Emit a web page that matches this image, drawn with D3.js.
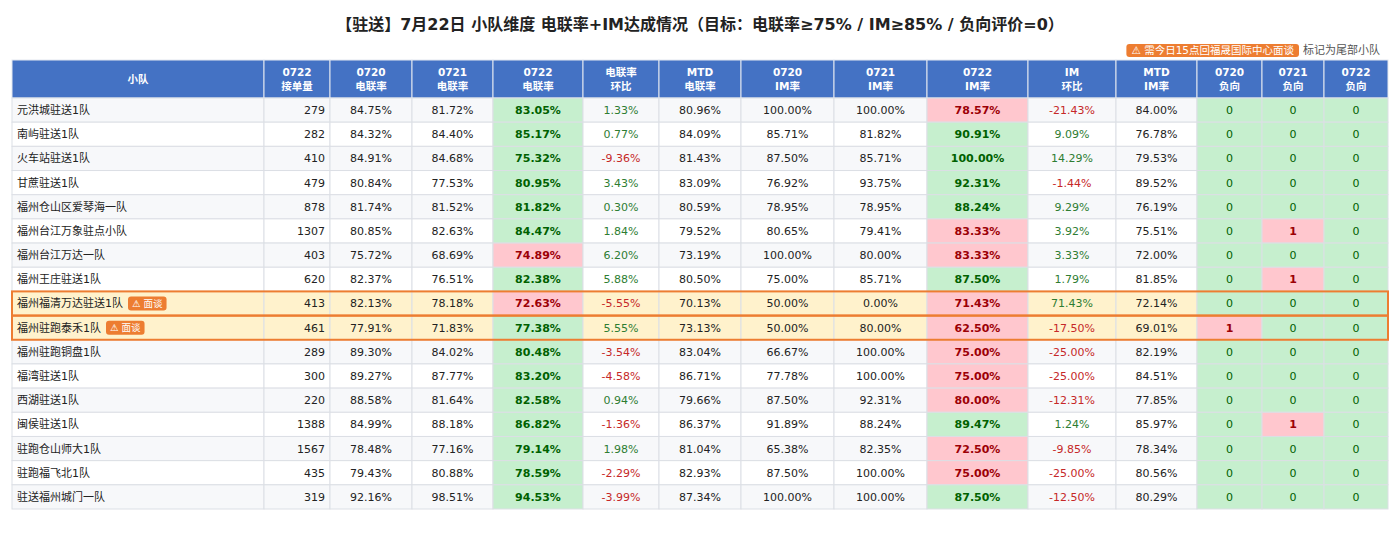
<!DOCTYPE html>
<html lang="zh">
<head>
<meta charset="utf-8">
<title>驻送 小队维度 电联率+IM达成情况</title>
<script src="https://d3js.org/d3.v7.min.js"></script>
<style>
  body { margin: 0; background: #fff; }
  svg { display: block; }
  text { font-family: "DejaVu Sans", "Noto Sans CJK SC", sans-serif; }
  .title { font-size: 16px; font-weight: bold; fill: #222; }
  .head { font-size: 10.5px; font-weight: bold; fill: #fff; }
  .cell { font-size: 11px; }
</style>
</head>
<body>
<svg id="chart" width="1400" height="540"></svg>
<script>
// ---- data ----
const teams = ["元洪城驻送1队", "南屿驻送1队", "火车站驻送1队", "甘蔗驻送1队", "福州仓山区爱琴海一队",
  "福州台江万象驻点小队", "福州台江万达一队", "福州王庄驻送1队", "福州福清万达驻送1队", "福州驻跑泰禾1队",
  "福州驻跑铜盘1队", "福湾驻送1队", "西湖驻送1队", "闽侯驻送1队", "驻跑仓山师大1队", "驻跑福飞北1队", "驻送福州城门一队"];
const orders  = [279, 282, 410, 479, 878, 1307, 403, 620, 413, 461, 289, 300, 220, 1388, 1567, 435, 319];
const dl0720  = [84.75, 84.32, 84.91, 80.84, 81.74, 80.85, 75.72, 82.37, 82.13, 77.91, 89.30, 89.27, 88.58, 84.99, 78.48, 79.43, 92.16];
const dl0721  = [81.72, 84.40, 84.68, 77.53, 81.52, 82.63, 68.69, 76.51, 78.18, 71.83, 84.02, 87.77, 81.64, 88.18, 77.16, 80.88, 98.51];
const dl0722  = [83.05, 85.17, 75.32, 80.95, 81.82, 84.47, 74.89, 82.38, 72.63, 77.38, 80.48, 83.20, 82.58, 86.82, 79.14, 78.59, 94.53];
const dlChg   = [1.33, 0.77, -9.36, 3.43, 0.30, 1.84, 6.20, 5.88, -5.55, 5.55, -3.54, -4.58, 0.94, -1.36, 1.98, -2.29, -3.99];
const dlMtd   = [80.96, 84.09, 81.43, 83.09, 80.59, 79.52, 73.19, 80.50, 70.13, 73.13, 83.04, 86.71, 79.66, 86.37, 81.04, 82.93, 87.34];
const im0720  = [100.00, 85.71, 87.50, 76.92, 78.95, 80.65, 100.00, 75.00, 50.00, 50.00, 66.67, 77.78, 87.50, 91.89, 65.38, 87.50, 100.00];
const im0721  = [100.00, 81.82, 85.71, 93.75, 78.95, 79.41, 80.00, 85.71, 0.00, 80.00, 100.00, 100.00, 92.31, 88.24, 82.35, 100.00, 100.00];
const im0722  = [78.57, 90.91, 100.00, 92.31, 88.24, 83.33, 83.33, 87.50, 71.43, 62.50, 75.00, 75.00, 80.00, 89.47, 72.50, 75.00, 87.50];
const imChg   = [-21.43, 9.09, 14.29, -1.44, 9.29, 3.92, 3.33, 1.79, 71.43, -17.50, -25.00, -25.00, -12.31, 1.24, -9.85, -25.00, -12.50];
const imMtd   = [84.00, 76.78, 79.53, 89.52, 76.19, 75.51, 72.00, 81.85, 72.14, 69.01, 82.19, 84.51, 77.85, 85.97, 78.34, 80.56, 80.29];
const neg0720 = [0, 0, 0, 0, 0, 0, 0, 0, 0, 1, 0, 0, 0, 0, 0, 0, 0];
const neg0721 = [0, 0, 0, 0, 0, 1, 0, 1, 0, 0, 0, 0, 0, 1, 0, 0, 0];
const neg0722 = [0, 0, 0, 0, 0, 0, 0, 0, 0, 0, 0, 0, 0, 0, 0, 0, 0];
const tailTeams = ["福州福清万达驻送1队", "福州驻跑泰禾1队"];

const headTop    = ["小队", "0722", "0720", "0721", "0722", "电联率", "MTD", "0720", "0721", "0722", "IM", "MTD", "0720", "0721", "0722"];
const headBottom = ["", "接单量", "电联率", "电联率", "电联率", "环比", "电联率", "IM率", "IM率", "IM率", "环比", "IM率", "负向", "负向", "负向"];
const dlTarget = 75, imTarget = 85;

// column kinds: name, count, plain pct, target pct, change pct, negative count
const columns = [
  { kind: "name", values: teams },
  { kind: "count", values: orders },
  { kind: "pct", values: dl0720 },
  { kind: "pct", values: dl0721 },
  { kind: "target", values: dl0722, target: dlTarget },
  { kind: "chg", values: dlChg },
  { kind: "pct", values: dlMtd },
  { kind: "pct", values: im0720 },
  { kind: "pct", values: im0721 },
  { kind: "target", values: im0722, target: imTarget },
  { kind: "chg", values: imChg },
  { kind: "pct", values: imMtd },
  { kind: "neg", values: neg0720 },
  { kind: "neg", values: neg0721 },
  { kind: "neg", values: neg0722 }
];

// ---- layout ----
const colWidths = [252, 66, 82, 81, 90, 76, 82, 93, 93, 101, 88, 81, 65, 62, 64];
const tableLeft = 12, headTopY = 60, headBottomY = 98, tableBottom = 509;
const edges = [tableLeft, ...Array.from(d3.cumsum(colWidths), v => tableLeft + v)];

const x = d3.scaleOrdinal().domain(d3.range(columns.length)).range(edges.slice(0, -1));
const w = i => colWidths[i];
const y = d3.scaleBand().domain(d3.range(teams.length)).range([headBottomY, tableBottom]);

const C = {
  head: "#4472c4", grid: "#dcdfe5", stripe: "#f7f8fa", text: "#222",
  goodBg: "#c6efce", goodFg: "#006100", badBg: "#ffc7ce", badFg: "#9c0006",
  up: "#2e7d32", down: "#c62828", tailBg: "#fff2cc", orange: "#ed7d31"
};
// plain hyphen for negatives, like the source sheet
const fmt2 = d3.formatLocale({ decimal: ".", thousands: ",", grouping: [3], currency: ["", ""], minus: "-" }).format(".2f");
const pct = d => fmt2(d) + "%";

const svg = d3.select("#chart");

svg.append("text").attr("class", "title")
  .attr("x", 700).attr("y", 30).attr("text-anchor", "middle")
  .text("【驻送】7月22日 小队维度 电联率+IM达成情况（目标：电联率≥75% / IM≥85% / 负向评价=0）");

// legend at top right
const legend = svg.append("g");
const legendNote = legend.append("text")
  .attr("x", 1380).attr("y", 54).attr("text-anchor", "end")
  .style("fill", "#555").style("font-size", "11px").text("标记为尾部小队");
const noteW = legendNote.node().getComputedTextLength();
const badgeRight = 1380 - noteW - 9;
const badgeText = legend.append("text")
  .attr("x", badgeRight).attr("y", 54).attr("text-anchor", "end")
  .style("fill", "#fff").style("font-size", "10.5px").text("⚠ 需今日15点回福晟国际中心面谈");
const btW = badgeText.node().getComputedTextLength();
legend.insert("rect", "text:last-child")
  .attr("x", badgeRight - btW - 5).attr("y", 44).attr("width", btW + 10).attr("height", 13)
  .attr("rx", 3).attr("fill", C.orange);

// header
const head = svg.append("g");
columns.forEach((c, i) => {
  head.append("rect").attr("x", x(i)).attr("y", headTopY)
    .attr("width", w(i)).attr("height", headBottomY - headTopY)
    .attr("fill", C.head).attr("stroke", "#e3e8f0").attr("stroke-width", 1);
  const cx = x(i) + w(i) / 2;
  if (headBottom[i]) {
    head.append("text").attr("class", "head").attr("x", cx).attr("y", 76).attr("text-anchor", "middle").text(headTop[i]);
    head.append("text").attr("class", "head").attr("x", cx).attr("y", 90).attr("text-anchor", "middle").text(headBottom[i]);
  } else {
    head.append("text").attr("class", "head").attr("x", cx).attr("y", 83).attr("text-anchor", "middle").text(headTop[i]);
  }
});

// body
const rows = svg.append("g").selectAll("g.row")
  .data(teams).join("g").attr("class", "row")
  .attr("transform", (d, r) => `translate(0,${y(r)})`);

rows.each(function (team, r) {
  const g = d3.select(this);
  const isTail = tailTeams.includes(team);
  const baseBg = isTail ? C.tailBg : (r % 2 === 0 ? C.stripe : "#fff");
  columns.forEach((c, i) => {
    const v = c.values[r];
    let bg = baseBg, fg = C.text, bold = false, label, anchor = "middle", tx = x(i) + w(i) / 2;
    if (c.kind === "name") { label = v; anchor = "start"; tx = x(i) + 5; }
    else if (c.kind === "count") { label = v; anchor = "end"; tx = x(i) + w(i) - 5; }
    else if (c.kind === "pct") { label = pct(v); }
    else if (c.kind === "target") {
      label = pct(v); bold = true;
      const ok = v >= c.target;
      bg = ok ? C.goodBg : C.badBg; fg = ok ? C.goodFg : C.badFg;
    } else if (c.kind === "chg") { label = pct(v); fg = v >= 0 ? C.up : C.down; }
    else if (c.kind === "neg") {
      label = v;
      const ok = v === 0;
      bg = ok ? C.goodBg : C.badBg; fg = ok ? C.goodFg : C.badFg; bold = !ok;
    }
    g.append("rect").attr("x", x(i)).attr("y", 0)
      .attr("width", w(i)).attr("height", y.bandwidth())
      .attr("fill", bg).attr("stroke", C.grid).attr("stroke-width", 1);
    const t = g.append("text").attr("class", "cell")
      .attr("x", tx).attr("y", y.bandwidth() / 2).attr("dy", "0.36em")
      .attr("text-anchor", anchor).style("fill", fg)
      .style("font-weight", bold ? "bold" : "normal").text(label);
    if (c.kind === "name" && isTail) {
      const tw = t.node().getComputedTextLength();
      const bx = tx + tw + 5;
      const tag = g.append("text").attr("x", bx + 4).attr("y", y.bandwidth() / 2).attr("dy", "0.36em")
        .style("fill", "#fff").style("font-size", "9.5px").text("⚠ 面谈");
      const tagW = tag.node().getComputedTextLength();
      g.insert("rect", "text:last-child").attr("x", bx).attr("y", y.bandwidth() / 2 - 7)
        .attr("width", tagW + 8).attr("height", 14).attr("rx", 3).attr("fill", C.orange);
    }
  });
});

// orange frames round tail teams
teams.forEach((team, r) => {
  if (!tailTeams.includes(team)) return;
  svg.append("rect").attr("x", edges[0]).attr("y", y(r))
    .attr("width", edges[edges.length - 1] - edges[0]).attr("height", y.bandwidth())
    .attr("fill", "none").attr("stroke", C.orange).attr("stroke-width", 2);
});
</script>
</body>
</html>
